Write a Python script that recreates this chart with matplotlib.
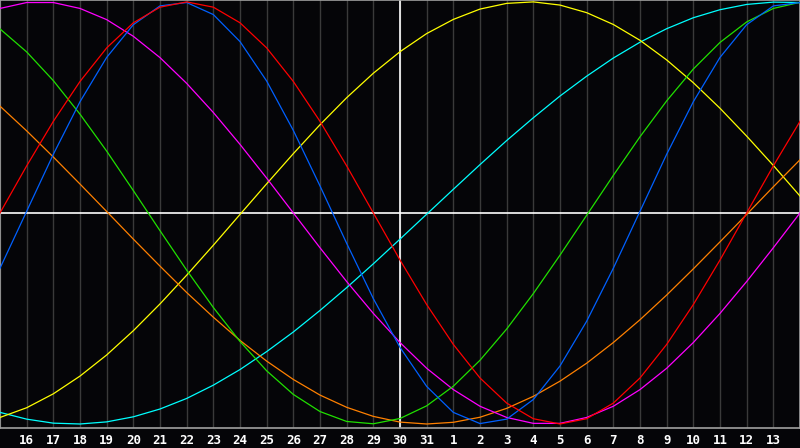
import matplotlib
matplotlib.use("Agg")
import matplotlib.pyplot as plt
import numpy as np

# day axis: index 0 = 15th, index 30 = 14th next month
days = list(range(15, 32)) + list(range(1, 15))

# curve values (percent, -100..100), one per day
red = [0, 22.3, 43.4, 62.3, 78.2, 90.1, 97.5, 100, 97.5, 90.1, 78.2, 62.3, 43.4, 22.3, 0,
       -22.3, -43.4, -62.3, -78.2, -90.1, -97.5, -100, -97.5, -90.1, -78.2, -62.3, -43.4, -22.3, 0,
       22.3, 43.4]
blue = [-26.2, 0.8, 27.8, 52.7, 73.7, 89.2, 98.1, 99.7, 94.0, 81.2, 62.5, 39.1, 12.8, -14.4, -40.6,
        -63.7, -82.2, -94.5, -99.8, -97.7, -88.4, -72.5, -51.3, -26.2, 0.8, 27.8, 52.7, 73.7, 89.2,
        98.1, 99.7]
green = [87.2, 76.3, 62.7, 46.8, 29.3, 10.6, -8.4, -27.1, -44.8, -60.9, -74.8, -86.0, -94.1, -98.8,
         -99.9, -97.4, -91.4, -82.1, -69.8, -55.0, -38.2, -20.0, -1.1, 17.8, 36.1, 53.1, 68.2, 80.8,
         90.5, 96.9, 99.8]
magenta = [96.9, 99.7, 99.7, 96.9, 91.6, 83.7, 73.6, 61.4, 47.6, 32.5, 16.5, 0, -16.5, -32.5, -47.6,
           -61.4, -73.6, -83.7, -91.6, -96.9, -99.7, -99.7, -96.9, -91.6, -83.7, -73.6, -61.4, -47.6,
           -32.5, -16.5, 0]
yellow = [-96.9, -92.3, -85.7, -77.3, -67.3, -55.8, -43.1, -29.5, -15.3, -0.7, 13.8, 28.1, 41.8, 54.6,
          66.2, 76.4, 85.0, 91.7, 96.6, 99.3, 100.0, 98.5, 94.9, 89.3, 81.8, 72.5, 61.7, 49.6, 36.4,
          22.5, 8.0]
cyan = [-94.5, -97.7, -99.6, -100.0, -99.0, -96.6, -92.9, -87.9, -81.6, -74.2, -65.7, -56.4, -46.2,
        -35.4, -24.1, -12.4, -0.6, 11.2, 22.9, 34.3, 45.1, 55.4, 64.8, 73.4, 80.9, 87.3, 92.5, 96.3,
        98.8, 99.9, 99.7]
orange = [50.6, 38.9, 26.5, 13.7, 0.7, -12.4, -25.2, -37.7, -49.4, -60.4, -70.2, -78.9, -86.3, -92.1,
          -96.4, -99.1, -100.0, -99.2, -96.8, -92.6, -86.9, -79.7, -71.2, -61.4, -50.6, -38.9, -26.5,
          -13.7, -0.7, 12.4, 25.2]

series = [(cyan, '#00ffff'), (yellow, '#ffff00'), (orange, '#ff8000'), (magenta, '#ff00ff'),
          (green, '#20e000'), (blue, '#0060ff'), (red, '#ff0000')]

x = np.arange(len(days))

fig = plt.figure(figsize=(8, 4.48), dpi=100)
fig.patch.set_facecolor('#050508')
ax = fig.add_axes([0, 20 / 448, 1, 428 / 448])
ax.set_facecolor('#050508')

# grid
for k in x:
    ax.axvline(k, color='#3a3a3a', lw=1, zorder=1)
ax.axvline(15, color='white', lw=1.2, zorder=2)
ax.axhline(0, color='white', lw=1.2, zorder=2)

for vals, c in series:
    ax.plot(x, vals, color=c, lw=0.9, zorder=3)

ax.set_xlim(0, 30)
ax.set_ylim(-101.9, 100.9)
ax.set_yticks([])
ax.set_xticks(x[1:30])
ax.set_xticklabels([str(d) for d in days[1:30]], family='DejaVu Sans Mono',
                   fontweight='bold', fontsize=9, color='white')
ax.tick_params(axis='x', length=0, pad=4)
for s in ax.spines.values():
    s.set_color('#a0a0a0')
    s.set_linewidth(1.2)

fig.savefig('out.png', dpi=100, facecolor=fig.get_facecolor())
